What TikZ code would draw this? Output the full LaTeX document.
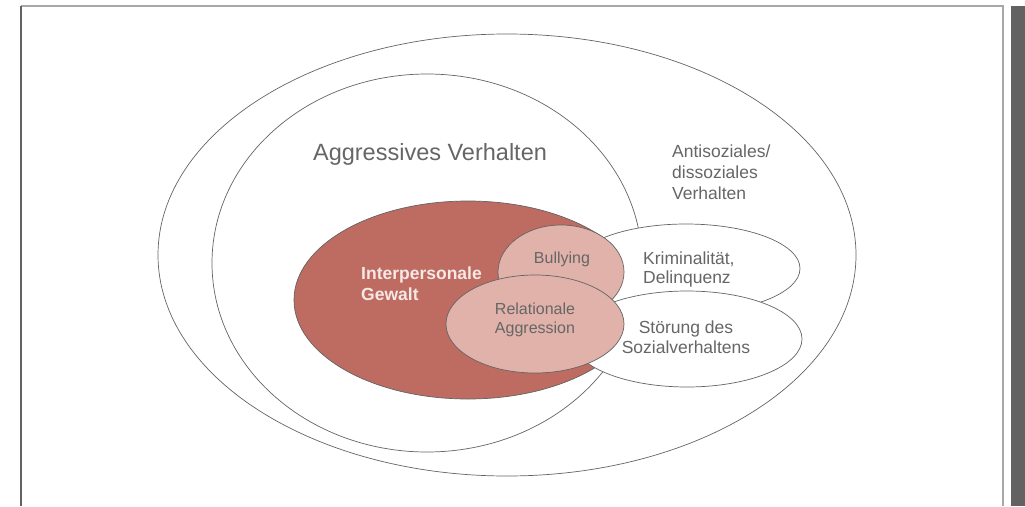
\documentclass[tikz,border=0pt]{standalone}
\usepackage{fontspec}
\setmainfont{Liberation Sans}
\usetikzlibrary{shapes.geometric,positioning}
\definecolor{gewaltcol}{RGB}{190,107,98}
\definecolor{subcol}{RGB}{224,178,170}
\definecolor{linecol}{RGB}{100,100,100}
\definecolor{textcol}{RGB}{102,102,102}
\definecolor{lighttext}{RGB}{246,232,228}
\definecolor{framecol}{RGB}{168,168,168}
\definecolor{barcol}{RGB}{98,98,98}

\begin{document}
\begin{tikzpicture}[
  x=1pt, y=-1pt,
  every node/.style={font=\fontsize{17.5}{20.5}\selectfont, text=textcol, inner sep=0pt},
  ell/.style={ellipse, draw=linecol, line width=0.7pt, fill=white},
  gewalt/.style={ell, fill=gewaltcol},
  sub/.style={ell, fill=subcol},
  small/.style={font=\fontsize{16}{19}\selectfont},
]
  \useasboundingbox (0,0) rectangle (1025,506);
  % frame
  \draw[framecol, line width=1.3pt] (21,6) -- (1003,6) -- (1003,506);
  \draw[barcol, line width=1.1pt] (21,6) -- (21,506);
  \fill[barcol] (1011,6) rectangle (1025,506);
  % outer sets
  \node[ell, minimum width=698pt, minimum height=442pt] (antisoz) at (507,255) {};
  \node[ell, minimum width=430pt, minimum height=378pt] (aggr) at (427,263) {};
  \node[font=\fontsize{23.5}{27}\selectfont, anchor=base] (aggrtxt) at (430,160) {Aggressives Verhalten};
  % (base of a multi-line node = last line)
  \node[align=left, anchor=base west, font=\fontsize{17.5}{21}\selectfont] (antisoztxt) at (672,199) {Antisoziales/\\dissoziales\\Verhalten};
  % interpersonal violence
  \node[gewalt, minimum width=348pt, minimum height=198pt] (gewalt) at (468,300) {};
  \node[align=left, anchor=base west, text=lighttext, font=\bfseries\fontsize{17.5}{20.5}\selectfont] (gewalttxt) at (361,300) {Interpersonale\\Gewalt};
  % crime, conduct disorder
  \node[ell, minimum width=228pt, minimum height=89pt] (krim) at (686,268.5) {};
  \node[ell, minimum width=230pt, minimum height=96pt] (stoerung) at (687,339) {};
  \node[align=left, anchor=base west, font=\fontsize{17.5}{19.5}\selectfont] (krimtxt) at (643,283.5) {Kriminalität,\\Delinquenz};
  \node[align=center, anchor=base, font=\fontsize{17.5}{20}\selectfont] (stoerungtxt) at (686,353) {Störung des\\Sozialverhaltens};
  % bullying, relational aggression
  \node[sub, minimum width=126pt, minimum height=94pt] (bully) at (561,272) {};
  \node[small, anchor=base] (bullytxt) at (562,263) {Bullying};
  \node[sub, minimum width=178pt, minimum height=98pt] (relagg) at (535,324) {};
  \node[small, align=center, anchor=base] (relaggtxt) at (535,333) {Relationale\\Aggression};
\end{tikzpicture}
\end{document}
